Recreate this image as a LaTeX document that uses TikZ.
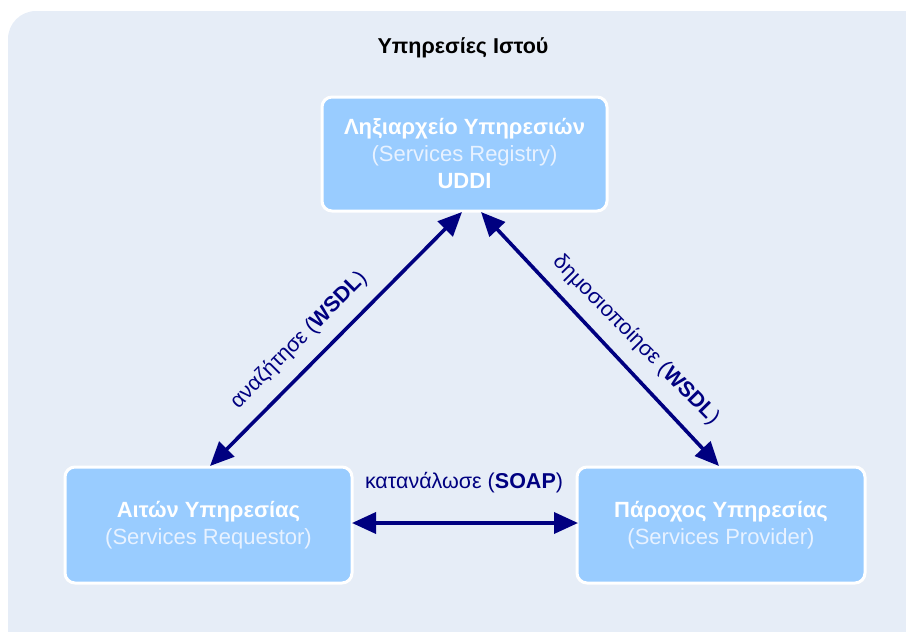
\documentclass[tikz,border=0pt]{standalone}
\usepackage{fontspec}
\setmainfont{Liberation Sans}
\usetikzlibrary{arrows.meta}
\definecolor{panel}{HTML}{E6EDF7}
\definecolor{boxfill}{HTML}{99CCFF}
\definecolor{subtext}{HTML}{E8F2FF}
\definecolor{navy}{HTML}{000080}
\tikzset{
  role/.style={draw=white, line width=3pt, fill=boxfill, rounded corners=10pt,
    minimum width=#1, align=center, text=white, inner sep=0pt,
    font=\fontsize{22}{27}\selectfont},
  link/.style={navy, line width=3.6pt, {Triangle[length=24pt,width=21pt]}-{Triangle[length=24pt,width=21pt]}},
  linklabel/.style={text=navy, font=\fontsize{21.5}{24}\selectfont, inner sep=0pt}
}
\begin{document}
\begin{tikzpicture}[x=1pt,y=-1pt]
  \useasboundingbox (0,0) rectangle (906,632);
  % panel behind the diagram
  \fill[panel, rounded corners=28pt] (8,11) rectangle (960,690);
  \node[font=\bfseries\fontsize{21.5}{24}\selectfont] (title) at (463,48) {Υπηρεσίες Ιστού};

  % the three roles
  \node[role=285pt, minimum height=114pt] (reg) at (464.5,154)
    {\textbf{Ληξιαρχείο Υπηρεσιών}\\
     \textcolor{subtext}{(Services Registry)}\\
     \textbf{UDDI}};
  \node[role=287pt, minimum height=116pt] (req) at (208.5,525)
    {\textbf{Αιτών Υπηρεσίας}\\
     \textcolor{subtext}{(Services Requestor)}};
  \node[role=288pt, minimum height=116pt] (prov) at (721,525)
    {\textbf{Πάροχος Υπηρεσίας}\\
     \textcolor{subtext}{(Services Provider)}};

  % anchor points of the connectors
  \coordinate (reqtop) at (210,466);
  \coordinate (regl) at (462,212);
  \coordinate (regr) at (481,212);
  \coordinate (provtop) at (719,466);
  \coordinate (reqright) at (352,523);
  \coordinate (provleft) at (578,523);

  \draw[link] (reqtop) -- (regl);
  \draw[link] (regr) -- (provtop);
  \draw[link] (reqright) -- (provleft);

  % connector labels
  \node[linklabel, rotate=45] (find) at (299,340) {αναζήτησε (\textbf{WSDL})};
  \node[linklabel, rotate=-45.5] (publish) at (636,340) {δημοσιοποίησε (\textbf{WSDL})};
  \node[linklabel] (consume) at (464,483) {κατανάλωσε (\textbf{SOAP})};
\end{tikzpicture}
\end{document}
